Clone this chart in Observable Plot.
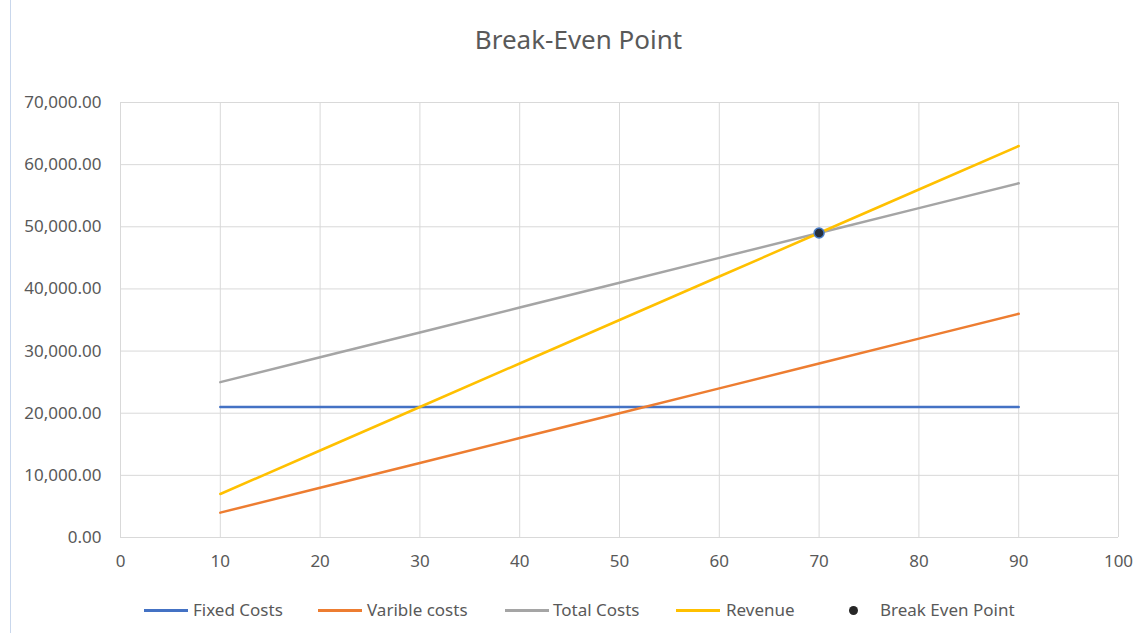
<!DOCTYPE html>
<html>
<head>
<meta charset="utf-8">
<script src="https://cdn.jsdelivr.net/npm/d3@7"></script>
<script src="https://cdn.jsdelivr.net/npm/@observablehq/plot@0.6"></script>
<style>
  body { margin: 0; background: #fff; font-family: "Noto Sans", sans-serif; }
  #wrap { position: relative; width: 1137px; height: 633px; overflow: hidden; }
  #border { position: absolute; left: 10px; top: 0; width: 1px; height: 633px; background: #c9d7ec; }
  #title { position: absolute; left: 0; top: 21px; width: 1157px; text-align: center; font-size: 26px; color: #595959; line-height: 36px; }
  #chart { position: absolute; left: 0; top: 80px; }
  .lg { position: absolute; top: 599px; font-size: 17px; color: #595959; line-height: 22px; white-space: nowrap; }
  .sw { position: absolute; top: 609px; height: 3px; width: 44px; }
  .dot { position: absolute; top: 606px; width: 9px; height: 9px; border-radius: 50%; background: #262626; }
</style>
</head>
<body>
<div id="wrap">
  <div id="border"></div>
  <div id="title">Break-Even Point</div>
  <div id="chart"></div>
  <div id="legend"></div>
</div>
<script>
const units = [10, 20, 30, 40, 50, 60, 70, 80, 90];
const fixedCosts = [21000, 21000, 21000, 21000, 21000, 21000, 21000, 21000, 21000];
const variableCosts = [4000, 8000, 12000, 16000, 20000, 24000, 28000, 32000, 36000];
const totalCosts = [25000, 29000, 33000, 37000, 41000, 45000, 49000, 53000, 57000];
const revenue = [7000, 14000, 21000, 28000, 35000, 42000, 49000, 56000, 63000];
const breakEven = [{x: 70, y: 49000}];
const seriesNames = ["Fixed Costs", "Varible costs", "Total Costs", "Revenue"];
const seriesColors = ["#4472C4", "#ED7D31", "#A5A5A5", "#FFC000"];
const xTicks = [0, 10, 20, 30, 40, 50, 60, 70, 80, 90, 100];
const yTicks = [0, 10000, 20000, 30000, 40000, 50000, 60000, 70000];

const seriesValues = [fixedCosts, variableCosts, totalCosts, revenue];
const rows = [];
seriesValues.forEach((vals, i) => vals.forEach((v, j) => rows.push({series: seriesNames[i], x: units[j], y: v})));

const chart = Plot.plot({
  width: 1137,
  height: 497,
  marginLeft: 120,
  marginRight: 19,
  marginTop: 22,
  marginBottom: 40,
  style: {fontFamily: "Noto Sans, sans-serif", fontSize: "17px", color: "#595959", background: "transparent"},
  x: {domain: [0, 100], ticks: xTicks},
  y: {domain: [0, 70000], ticks: yTicks},
  color: {domain: seriesNames, range: seriesColors},
  marks: [
    Plot.gridX(xTicks, {stroke: "#d9d9d9", strokeOpacity: 1, strokeWidth: 1}),
    Plot.gridY(yTicks, {stroke: "#d9d9d9", strokeOpacity: 1, strokeWidth: 1}),
    Plot.axisX({ticks: xTicks, tickSize: 0, tickPadding: 17, label: null, fill: "#595959"}),
    Plot.axisY({ticks: yTicks, tickSize: 0, tickPadding: 19, label: null, tickFormat: d3.format(",.2f"), fill: "#595959"}),
    Plot.line(rows, {x: "x", y: "y", z: "series", stroke: "series", strokeWidth: 2.5}),
    Plot.dot(breakEven, {x: "x", y: "y", r: 5, fill: "#262f3d", stroke: "#4a7ec8", strokeWidth: 1.5})
  ]
});
document.getElementById("chart").appendChild(chart);

// Legend
const legend = document.getElementById("legend");
const items = [
  {name: seriesNames[0], color: seriesColors[0], sx: 144, tx: 193},
  {name: seriesNames[1], color: seriesColors[1], sx: 318, tx: 367},
  {name: seriesNames[2], color: seriesColors[2], sx: 505, tx: 553},
  {name: seriesNames[3], color: seriesColors[3], sx: 676, tx: 726}
];
items.forEach(it => {
  const sw = document.createElement("div");
  sw.className = "sw"; sw.style.left = it.sx + "px"; sw.style.background = it.color;
  legend.appendChild(sw);
  const t = document.createElement("div");
  t.className = "lg"; t.style.left = it.tx + "px"; t.textContent = it.name;
  legend.appendChild(t);
});
const d = document.createElement("div");
d.className = "dot"; d.style.left = "849px";
legend.appendChild(d);
const t = document.createElement("div");
t.className = "lg"; t.style.left = "880px"; t.textContent = "Break Even Point";
legend.appendChild(t);
</script>
</body>
</html>
